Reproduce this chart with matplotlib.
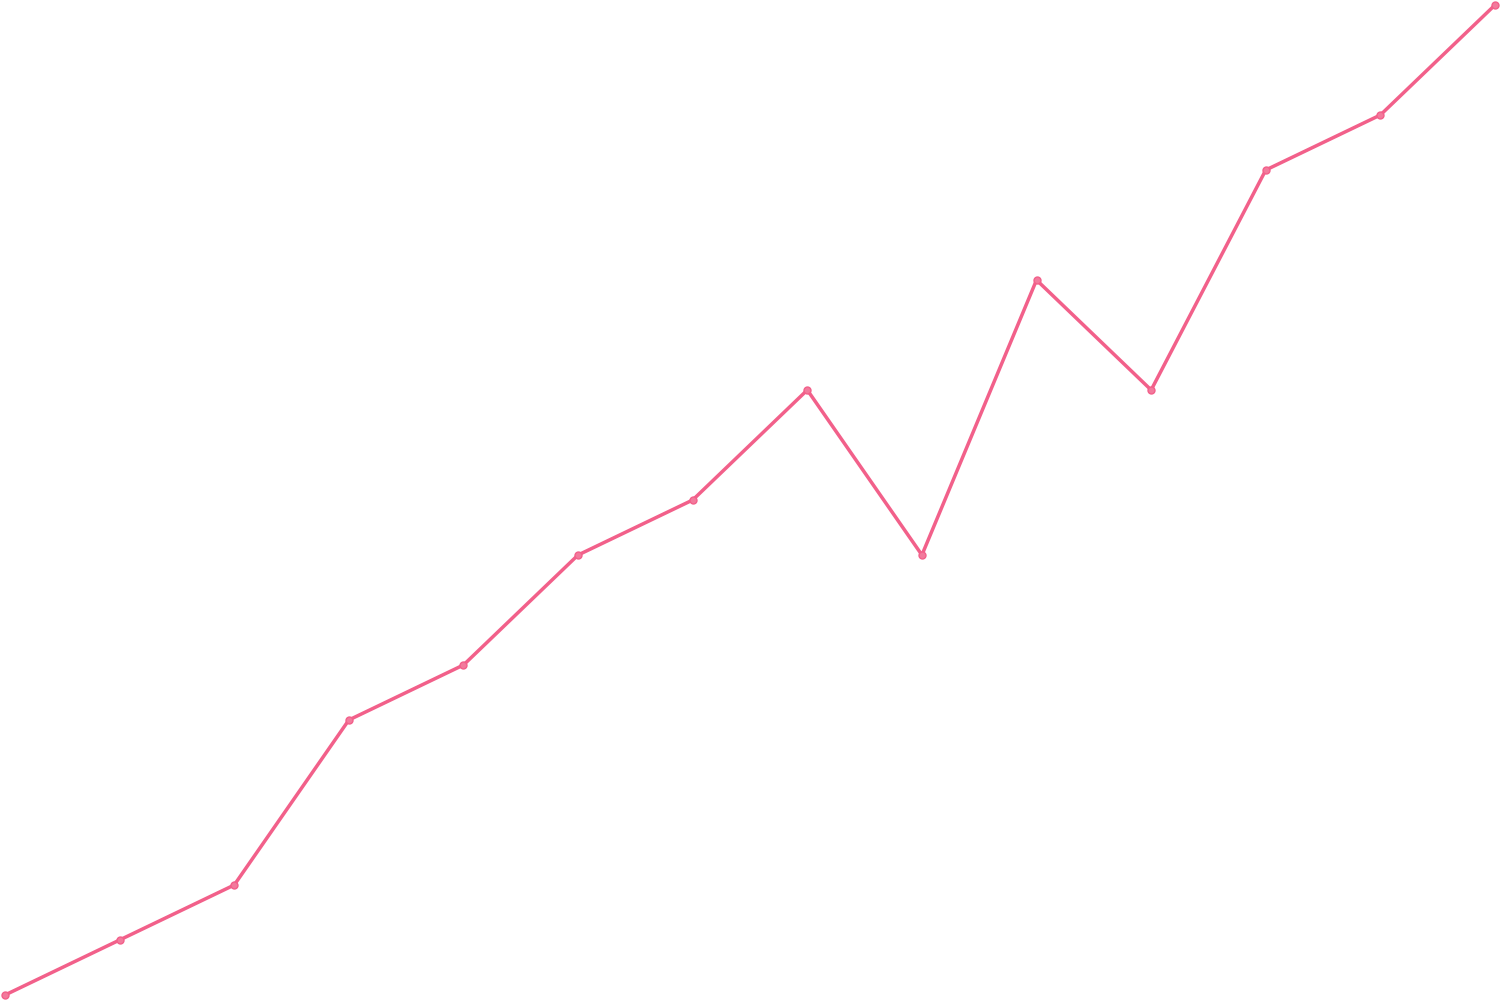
import matplotlib
matplotlib.use("Agg")
import matplotlib.pyplot as plt

# values (one step = 55 px)
x_idx = list(range(14))
values = [0, 1, 2, 5, 6, 8, 9, 11, 8, 13, 11, 15, 16, 18]

line_color = "#f2608a"

fig = plt.figure(figsize=(15, 10), dpi=100)
ax = fig.add_axes([5 / 1500, 5 / 1000, 1490 / 1500, 990 / 1000])
ax.plot(x_idx, values, color=line_color, linewidth=2.5,
        marker="o", markersize=5, markerfacecolor="#f27a9c",
        markeredgecolor=line_color, markeredgewidth=1, clip_on=False)
ax.set_xlim(x_idx[0], x_idx[-1])
ax.set_ylim(min(values), max(values))
ax.axis("off")

fig.savefig("out.png", dpi=100, facecolor="white")
